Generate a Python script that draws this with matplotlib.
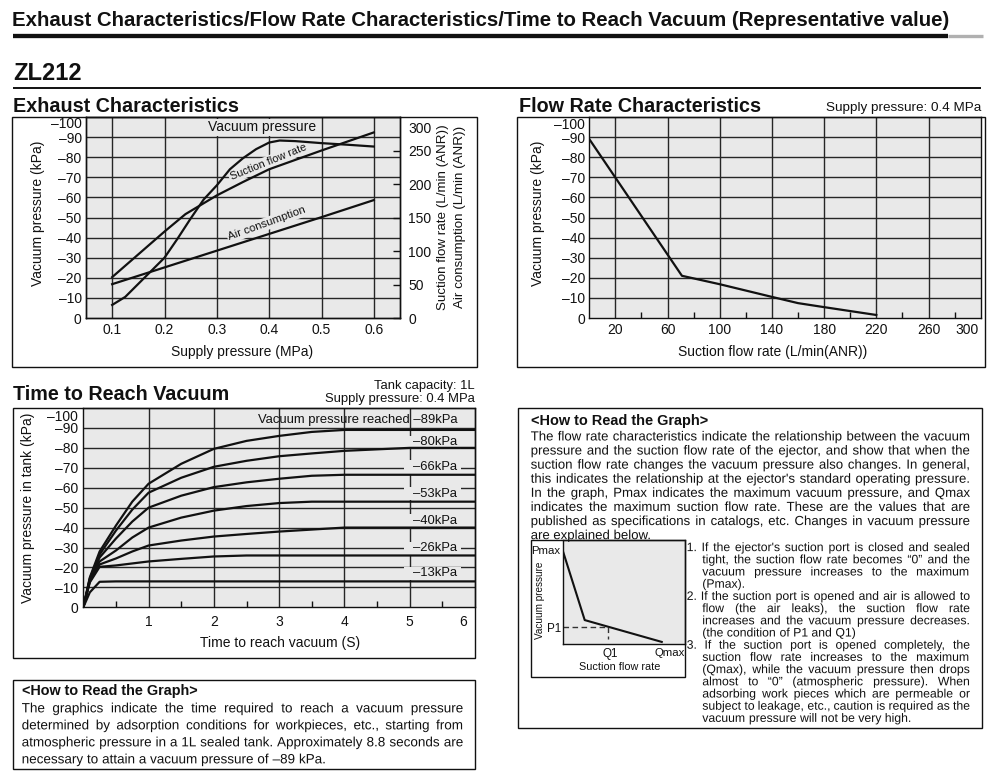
import matplotlib
matplotlib.use('Agg')
import matplotlib.pyplot as plt
import matplotlib.patheffects as pe
from matplotlib import font_manager as fm
from matplotlib.patches import Rectangle

W, H = 989, 775


def has_font(name):
    try:
        fm.findfont(fm.FontProperties(family=name), fallback_to_default=False)
        return True
    except ValueError:
        return False


SANS = 'Liberation Sans'
NARROW = 'Liberation Sans Narrow' if has_font('Liberation Sans Narrow') else SANS
plt.rcParams['font.family'] = [SANS, 'DejaVu Sans']

GRAY = '#e9e9e9'
INK = '#111111'
GRID = '#262626'
DASH = '\u2013'

# Exhaust characteristics (x = supply pressure, MPa)
supply_vac = [0.1, 0.125, 0.15, 0.175, 0.2, 0.225, 0.25, 0.275, 0.3, 0.325, 0.35, 0.375, 0.4, 0.42, 0.45, 0.5, 0.55, 0.6]
vacuum_kpa = [-6.5, -10.5, -17, -23.5, -30, -39.5, -49.5, -59, -66, -74, -79.5, -84, -87.3, -88.3, -88, -87, -86.2, -85.3]
supply_flow = [0.1, 0.15, 0.2, 0.24, 0.3, 0.35, 0.4, 0.5, 0.6]
suction_lpm = [61, 95, 129, 155, 183, 203, 222, 250, 277]
supply_air = [0.1, 0.2, 0.3, 0.4, 0.5, 0.6]
air_lpm = [50.5, 75.5, 100.5, 125.5, 150.5, 176]

# Flow rate characteristics
flow_q = [0, 71, 100, 140, 160, 180, 220]
flow_p = [-89, -21, -16.8, -10.5, -7.4, -5.4, -1.5]

# Time to reach vacuum
time_s = [0, 0.1, 0.25, 0.5, 0.75, 1, 1.5, 2, 2.5, 3, 3.5, 4, 5, 6]
reach_89 = [0, -15, -28, -41, -53, -62, -72, -79.5, -83.5, -86, -88, -89, -89, -89]
reach_80 = [0, -14.5, -26.5, -38.5, -49, -57.5, -65, -70.5, -73.5, -75.8, -77.2, -78.5, -80, -80]
reach_66 = [0, -14, -25, -34.5, -43, -50, -56, -60.3, -62.7, -64.5, -66, -66.5, -66.5, -66.5]
reach_53 = [0, -13.5, -23, -28.5, -35, -40, -45, -48.5, -50.8, -52.3, -53, -53, -53, -53]
reach_40 = [0, -13, -21.5, -24.5, -28, -31, -33.5, -35.5, -36.8, -38, -39, -40, -40, -40]
reach_26 = [0, -12.5, -20.3, -21, -22, -23, -24.3, -25.5, -26, -26, -26, -26, -26, -26]
reach_13 = [0, -7.5, -12.8, -13, -13, -13, -13, -13, -13, -13, -13, -13, -13, -13]
reach_curves = [reach_89, reach_80, reach_66, reach_53, reach_40, reach_26, reach_13]
reach_labels = ['–80kPa', '–66kPa', '–53kPa', '–40kPa', '–26kPa', '–13kPa']
reach_label_y = [-82.9, -70.4, -56.9, -43.5, -29.6, -17]

# schematic in the "how to read" box (relative units)
sketch_q = [0, 0.18, 0.81]
sketch_p = [0.9, 0.23, 0.02]
p1, q1 = 0.167, 0.368

TITLE = 'Exhaust Characteristics/Flow Rate Characteristics/Time to Reach Vacuum (Representative value)'
flow_text = [
    "The flow rate characteristics indicate the relationship between the vacuum",
    "pressure and the suction flow rate of the ejector, and show that when the",
    "suction flow rate changes the vacuum pressure also changes. In general,",
    "this indicates the relationship at the ejector's standard operating pressure.",
    "In the graph, Pmax indicates the maximum vacuum pressure, and Qmax",
    "indicates the maximum suction flow rate. These are the values that are",
    "published as specifications in catalogs, etc. Changes in vacuum pressure",
    "are explained below.",
]
items = [
    ["1. If the ejector's suction port is closed and sealed",
     "tight, the suction flow rate becomes “0” and the",
     "vacuum pressure increases to the maximum",
     "(Pmax)."],
    ["2. If the suction port is opened and air is allowed to",
     "flow (the air leaks), the suction flow rate",
     "increases and the vacuum pressure decreases.",
     "(the condition of P1 and Q1)"],
    ["3. If the suction port is opened completely, the",
     "suction flow rate increases to the maximum",
     "(Qmax), while the vacuum pressure then drops",
     "almost to “0” (atmospheric pressure). When",
     "adsorbing work pieces which are permeable or",
     "subject to leakage, etc., caution is required as the",
     "vacuum pressure will not be very high."],
]
time_text = [
    "The graphics indicate the time required to reach a vacuum pressure",
    "determined by adsorption conditions for workpieces, etc., starting from",
    "atmospheric pressure in a 1L sealed tank. Approximately 8.8 seconds are",
    "necessary to attain a vacuum pressure of –89 kPa.",
]

fig = plt.figure(figsize=(W / 100, H / 100), dpi=100)
page = fig.add_axes([0, 0, 1, 1])
page.set_xlim(0, W)
page.set_ylim(H, 0)
page.axis('off')
page.set_zorder(10)
page.patch.set_alpha(0)
renderer = fig.canvas.get_renderer()


def px_axes(x0, y0, x1, y1):
    return fig.add_axes([x0 / W, 1 - y1 / H, (x1 - x0) / W, (y1 - y0) / H])


def width_of(t):
    return t.get_window_extent(renderer).width


def put(x, y, s, size, **kw):
    kw.setdefault('va', 'center')
    kw.setdefault('ha', 'left')
    kw.setdefault('family', SANS)
    kw.setdefault('color', INK)
    return page.text(x, y, s, fontsize=size, **kw)


def fit(x, y, s, width, **kw):
    t = put(x, y, s, 10, **kw)
    t.set_fontsize(10 * width / width_of(t))
    return t


def natural(s, size, family=SANS):
    t = page.text(0, 0, s, fontsize=size, family=family)
    w = width_of(t)
    t.remove()
    return w


def space_w(size, family=SANS):
    return natural('a a', size, family) - natural('aa', size, family)


def justify(x0, x1, y, s, size, family=SANS, spread=True):
    # words share one baseline; gaps stretch so the line fills x0..x1.
    # drawn through a path effect so every word sits exactly on the baseline
    base = y + 0.36 * size * 100 / 72
    words = s.split(' ')
    ts = [put(x0, base, w, size, family=family, va='baseline',
              path_effects=[pe.Normal()]) for w in words]
    ws = [width_of(t) for t in ts]
    if spread and len(words) > 1:
        gap = (x1 - x0 - sum(ws)) / (len(words) - 1)
    else:
        gap = space_w(size, family)
    x = x0
    for t, w in zip(ts, ws):
        t.set_x(x)
        x += w + gap


def block(lines, x0s, x1, ys, size, last_flags, family=SANS):
    sp = space_w(size, family)
    ratio = 1.0
    for l, x0, last in zip(lines, x0s, last_flags):
        if last:
            continue
        words = l.split(' ')
        need = sum(natural(w, size, family) for w in words) + 0.6 * sp * (len(words) - 1)
        ratio = min(ratio, (x1 - x0) / need)
    size *= ratio
    for l, x0, y, last in zip(lines, x0s, ys, last_flags):
        justify(x0, x1, y, l, size, family, spread=not last)


def box(x0, y0, x1, y1, lw=1.0):
    page.add_patch(Rectangle((x0, y0), x1 - x0, y1 - y0, fill=False, lw=lw, ec=INK))


def lab(v):
    return '0' if v == 0 else DASH + str(-v)


def chart(rect, xlim, grid_x, ticks_x, tick_lab, pad_y, pad_x, dy100):
    ax = px_axes(*rect)
    ax.set_facecolor(GRAY)
    ax.set_xlim(*xlim)
    ax.set_ylim(0, -100)
    for v in grid_x:
        ax.axvline(v, color=GRID, lw=1.0, zorder=1)
    for v in range(-90, 0, 10):
        ax.axhline(v, color=GRID, lw=1.0, zorder=1)
    yt = list(range(-90, 1, 10))
    ax.set_yticks(yt)
    ax.set_yticklabels([lab(v) for v in yt])
    ax.set_xticks(ticks_x)
    ax.set_xticklabels(tick_lab)
    ax.tick_params(length=0, labelsize=10, colors=INK)
    ax.tick_params(axis='y', pad=pad_y)
    ax.tick_params(axis='x', pad=pad_x)
    for s in ax.spines.values():
        s.set_color(INK)
        s.set_linewidth(1.0)
    ax.annotate(lab(-100), xy=(0, -100), xycoords=('axes fraction', 'data'),
                xytext=(-pad_y / 0.72, -dy100), textcoords='offset pixels',
                ha='right', va='center', fontsize=10, color=INK)
    return ax


# ---------------- header ----------------
fit(12, 20, TITLE, 936, weight='bold', family=NARROW)
page.plot([13, 948], [36, 36], color=INK, lw=3.1, solid_capstyle='butt')
page.plot([948, 983], [35.6, 35.6], color='#b0b0b0', lw=2.4, solid_capstyle='butt')
fit(13, 73, 'ZL212', 68, weight='bold')
page.plot([13, 981], [87.5, 87.5], color=INK, lw=1.4, solid_capstyle='butt')

fit(13, 106, 'Exhaust Characteristics', 225, weight='bold')
fit(519, 106, 'Flow Rate Characteristics', 241, weight='bold')
fit(826, 108, 'Supply pressure: 0.4 MPa', 155)
fit(13, 395, 'Time to Reach Vacuum', 215, weight='bold')
put(475, 386.5, 'Tank capacity: 1L', 9.4, ha='right')
put(475, 399, 'Supply pressure: 0.4 MPa', 9.4, ha='right')

# ---------------- exhaust characteristics ----------------
ax1 = chart((86, 117, 400, 318), (0.05, 0.65), [0.1, 0.2, 0.3, 0.4, 0.5, 0.6],
            [0.1, 0.2, 0.3, 0.4, 0.5, 0.6], ['0.1', '0.2', '0.3', '0.4', '0.5', '0.6'], 3.1, 3.5, 7)
ax1.plot(supply_vac, vacuum_kpa, color=INK, lw=1.6, zorder=3)
lbl_box = dict(boxstyle='square,pad=0.12', fc=GRAY, ec='none')
ax1.text(0.386, -94.9, 'Vacuum pressure', ha='center', va='center', fontsize=10,
         color=INK, bbox=lbl_box, zorder=2)
ax1.text(0.398, -77.5, 'Suction flow rate', ha='center', va='center', fontsize=7.8,
         rotation=22, rotation_mode='anchor', color=INK, bbox=lbl_box, zorder=2)
ax1.text(0.396, -47, 'Air consumption', ha='center', va='center', fontsize=8.2,
         rotation=20, rotation_mode='anchor', color=INK, bbox=lbl_box, zorder=2)

ax1r = ax1.twinx()
ax1r.set_ylim(0, 300)
ax1r.set_yticks(range(0, 251, 50))
ax1r.tick_params(axis='y', direction='in', length=5, width=1, pad=6, labelsize=10, colors=INK)
for s in ax1r.spines.values():
    s.set_color(INK)
    s.set_linewidth(1.0)
ax1r.plot(supply_flow, suction_lpm, color=INK, lw=1.6)
ax1r.plot(supply_air, air_lpm, color=INK, lw=1.6)
ax1r.annotate('300', xy=(1, 300), xycoords=('axes fraction', 'data'), xytext=(8.3, -12),
              textcoords='offset pixels', ha='left', va='center', fontsize=10, color=INK)

put(38.3, 213.3, 'Vacuum pressure (kPa)', 10, rotation=90, ha='center')
put(242.3, 351.7, 'Supply pressure (MPa)', 10, ha='center')
put(443.3, 216.7, 'Suction flow rate (L/min (ANR))', 9.6, rotation=90, ha='center')
put(459.5, 216.7, 'Air consumption (L/min (ANR))', 9.6, rotation=90, ha='center')

# ---------------- flow rate characteristics ----------------
ax2 = chart((589.3, 117, 980.7, 318), (0, 300), [20, 60, 100, 140, 180, 220, 260],
            [20, 60, 100, 140, 180, 220, 260], ['20', '60', '100', '140', '180', '220', '260'],
            3.1, 3.5, 8)
ax2.set_xticks(range(40, 300, 40), minor=True)
ax2.tick_params(axis='x', which='minor', direction='in', length=4.5, width=1, color=INK)
ax2.plot(flow_q, flow_p, color=INK, lw=1.6, zorder=3)
ax2.annotate('300', xy=(300, 0), xycoords='data', xytext=(-14, -3.5 / 0.72),
             textcoords='offset pixels', ha='center', va='top', fontsize=10, color=INK)
put(538.3, 213.3, 'Vacuum pressure (kPa)', 10, rotation=90, ha='center')
put(772.3, 351.7, 'Suction flow rate (L/min(ANR))', 10, ha='center')

# ---------------- time to reach vacuum ----------------
ax3 = chart((83.3, 408, 475, 607.3), (0, 6), [1, 2, 3, 4, 5],
            [1, 2, 3, 4, 5], ['1', '2', '3', '4', '5'], 3.6, 5.8, 9.3)
ax3.set_xticks([0.5, 1.5, 2.5, 3.5, 4.5, 5.5], minor=True)
ax3.tick_params(axis='x', which='minor', direction='in', length=4.5, width=1, color=INK)
for curve in reach_curves:
    ax3.plot(time_s, curve, color=INK, lw=1.6, zorder=3)
ax3.text(5.73, -93.8, 'Vacuum pressure reached –89kPa', ha='right', va='center',
         fontsize=9.4, color=INK, zorder=4)
for txt, y in zip(reach_labels, reach_label_y):
    ax3.add_patch(Rectangle((4.91, y - 3.3), 0.87, 6.6, fc=GRAY, ec='none', zorder=2))
    ax3.text(5.73, y, txt, ha='right', va='center', fontsize=9.4, color=INK, zorder=4)
ax3.annotate('6', xy=(6, 0), xycoords='data', xytext=(-11.7, -5.8 / 0.72),
             textcoords='offset pixels', ha='center', va='top', fontsize=10, color=INK)
put(28.3, 508.3, 'Vacuum pressure in tank (kPa)', 10, rotation=90, ha='center')
put(280, 643.3, 'Time to reach vacuum (S)', 10, ha='center')

# ---------------- how to read (flow rate) ----------------
fit(530.7, 420.7, '<How to Read the Graph>', 177, weight='bold')
block(flow_text, [530.7] * len(flow_text), 970, [435.7 + 14.1 * i for i in range(len(flow_text))],
      9.5, [False] * (len(flow_text) - 1) + [True])

item_lines, item_x0, item_last = [], [], []
for it in items:
    for k, line in enumerate(it):
        item_lines.append(line)
        item_x0.append(686.7 if k == 0 else 702.3)
        item_last.append(k == len(it) - 1)
block(item_lines, item_x0, 970, [546.7 + 12.2 * i for i in range(len(item_lines))], 8.8, item_last)

ax4 = px_axes(562.7, 540, 685, 644)
ax4.set_facecolor(GRAY)
ax4.set_xlim(0, 1)
ax4.set_ylim(0, 1)
ax4.set_xticks([])
ax4.set_yticks([])
for s in ax4.spines.values():
    s.set_color(INK)
    s.set_linewidth(1.0)
ax4.plot(sketch_q, sketch_p, color=INK, lw=1.5, zorder=3)
ax4.plot([0, q1], [p1, p1], color='#333333', lw=1.0, dashes=(4, 2.5))
ax4.plot([q1, q1], [p1, 0.05], color='#333333', lw=1.0, dashes=(4, 2.5))
put(560.5, 551, 'Pmax', 8.2, ha='right', family=NARROW)
put(561, 629, 'P1', 8.4, ha='right', family=NARROW)
put(610, 653.5, 'Q1', 8.4, ha='center', family=NARROW)
put(669.5, 653.5, 'Qmax', 8.2, ha='center', family=NARROW)
put(619.3, 666.5, 'Suction flow rate', 7.8, ha='center', family=NARROW)
put(540, 600, 'Vacuum pressure', 7.2, ha='center', rotation=90, family=NARROW)

# ---------------- how to read (time) ----------------
fit(21.7, 690.5, '<How to Read the Graph>', 176, weight='bold')
block(time_text, [21.7] * 4, 463.3, [707.5, 724.5, 741.5, 758.5], 9.7, [False, False, False, True])

# ---------------- frames ----------------
box(12, 117, 477, 367)
box(517, 117, 985, 367)
box(12.5, 408, 475, 658)
box(12.5, 680, 475, 769)
box(518, 408, 982, 728)
box(531, 540, 685, 676.7)

fig.savefig('out.png', dpi=100)
